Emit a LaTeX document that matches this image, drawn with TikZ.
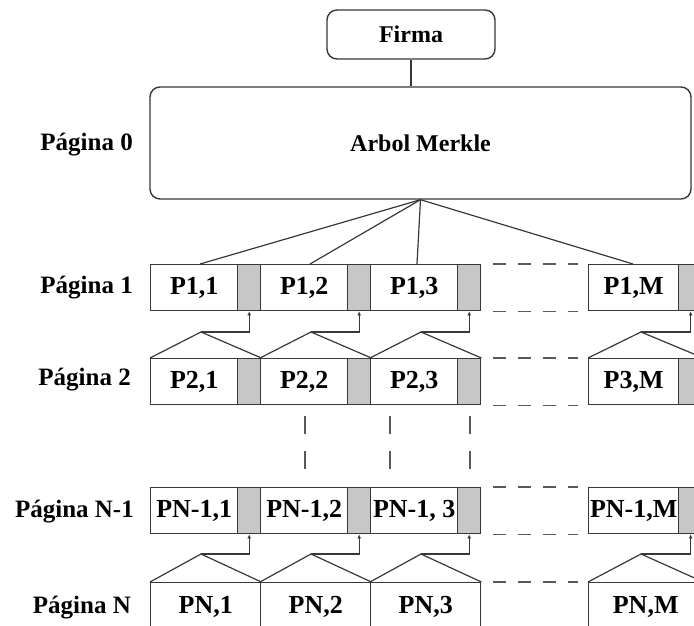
\documentclass[tikz,border=0pt]{standalone}
\usepackage{fontspec}
\setmainfont{Liberation Serif}
\usetikzlibrary{calc,arrows.meta}
\begin{document}
\begin{tikzpicture}[x=1pt,y=-1pt,
  ln/.style={draw=black!78, line width=1.4pt},
  cell/.style={ln, fill=white, minimum height=46pt, inner sep=0pt, anchor=north west, font=\fontsize{26}{26}\selectfont\bfseries},
  lastcell/.style={cell, minimum height=48pt},
  shade/.style={ln, fill=black!22, minimum height=46pt, minimum width=23pt, inner sep=0pt, anchor=north west},
  roof/.style={draw=black!78, line width=1.2pt, line join=miter},
  up/.style={draw=black!78, line width=1.1pt, -{Latex[length=4pt,width=4pt]}},
  gap/.style={draw=black!65, line width=1.4pt, dash pattern=on 13pt off 12pt},
  gapv/.style={draw=black!65, line width=1.4pt, dash pattern=on 18pt off 17pt},
  lbl/.style={anchor=east, inner sep=0pt, font=\fontsize{25}{25}\selectfont\bfseries},
  rbox/.style={ln, rounded corners=10pt, fill=white, inner sep=0pt, font=\fontsize{24}{24}\selectfont\bfseries}]
\useasboundingbox (0,0) rectangle (694,626);
\clip (0,0) rectangle (694,626);

% top boxes
\node[rbox, minimum width=168pt, minimum height=49pt] (f) at (411,34.5) {Firma};
\node[rbox, minimum width=541pt, minimum height=112pt] (m) at (420.5,143) {Arbol Merkle};
\draw[ln] (f.south) -- (f.south |- m.north);

% labels
\node[lbl] (l0) at (133,145) {Página 0};
\node[lbl] (l1) at (133,288) {Página 1};
\node[lbl] (l2) at (131,380) {Página 2};
\node[lbl] (l3) at (134,512) {Página N-1};
\node[lbl] (l4) at (131,608) {Página N};

% row 1
\node[cell, minimum width=87pt] (a1) at (150,264) {P1,1};
\node[shade] (ga1) at (237,264) {};
\node[cell, minimum width=87pt] (a2) at (260,264) {P1,2};
\node[shade] (ga2) at (347,264) {};
\node[cell, minimum width=87pt] (a3) at (370,264) {P1,3};
\node[shade] (ga3) at (457,264) {};
\node[cell, minimum width=90pt] (aM) at (588,264) {P1,M};
\node[shade, minimum width=24pt] (gaM) at (678,264) {};

% row 2
\node[cell, minimum width=87pt] (b1) at (150,358) {P2,1};
\node[shade] (gb1) at (237,358) {};
\node[cell, minimum width=87pt] (b2) at (260,358) {P2,2};
\node[shade] (gb2) at (347,358) {};
\node[cell, minimum width=87pt] (b3) at (370,358) {P2,3};
\node[shade] (gb3) at (457,358) {};
\node[cell, minimum width=90pt] (bM) at (588,358) {P3,M};
\node[shade, minimum width=24pt] (gbM) at (678,358) {};

% row N-1
\node[cell, minimum width=87pt] (c1) at (150,487) {PN-1,1};
\node[shade] (gc1) at (237,487) {};
\node[cell, minimum width=87pt] (c2) at (260,487) {PN-1,2};
\node[shade] (gc2) at (347,487) {};
\node[cell, minimum width=87pt] (c3) at (370,487) {PN-1, 3};
\node[shade] (gc3) at (457,487) {};
\node[cell, minimum width=90pt] (cM) at (588,487) {PN-1,M};
\node[shade, minimum width=24pt] (gcM) at (678,487) {};

% row N
\node[lastcell, minimum width=110pt] (d1) at (150,582) {PN,1};
\node[lastcell, minimum width=110pt] (d2) at (260,582) {PN,2};
\node[lastcell, minimum width=110pt] (d3) at (370,582) {PN,3};
\node[lastcell, minimum width=114pt] (dM) at (588,582) {PN,M};

% fan from Merkle tree
\draw[roof] (m.south) -- ($(a1.north west)+(50,0)$);
\draw[roof] (m.south) -- ($(a2.north west)+(50,0)$);
\draw[roof] (m.south) -- ($(a3.north west)+(47,0)$);
\draw[roof] (m.south) -- ($(aM.north west)+(45,0)$);

% roofs and arrows, row 2 -> row 1
\coordinate (rb1) at (201,332);
\coordinate (rb2) at (311,332);
\coordinate (rb3) at (421,332);
\coordinate (rbM) at (641,332);
\draw[roof] (b1.north west) -- (rb1) -- (gb1.north east);
\draw[roof] (b2.north west) -- (rb2) -- (gb2.north east);
\draw[roof] (b3.north west) -- (rb3) -- (gb3.north east);
\draw[roof] (bM.north west) -- (rbM) -- (gbM.north east);
\draw[up] (rb1) -| (ga1.south);
\draw[up] (rb2) -| (ga2.south);
\draw[up] (rb3) -| (ga3.south);
\draw[up] (rbM) -| (gaM.south);

% roofs and arrows, row N -> row N-1
\coordinate (rd1) at (201,554);
\coordinate (rd2) at (311,554);
\coordinate (rd3) at (421,554);
\coordinate (rdM) at (641,554);
\draw[roof] (d1.north west) -- (rd1) -- (d1.north east);
\draw[roof] (d2.north west) -- (rd2) -- (d2.north east);
\draw[roof] (d3.north west) -- (rd3) -- (d3.north east);
\draw[roof] (dM.north west) -- (rdM) -- (dM.north east);
\draw[up] (rd1) -| (gc1.south);
\draw[up] (rd2) -| (gc2.south);
\draw[up] (rd3) -| (gc3.south);
\draw[up] (rdM) -| (gcM.south);

% dashed gaps between column 3 and column M
\draw[gap] ($(ga3.north east)+(12,0)$) -- ($(aM.north west)+(-10,0)$);
\draw[gap] ($(ga3.south east)+(12,0)$) -- ($(aM.south west)+(-10,0)$);
\draw[gap] ($(gb3.north east)+(12,0)$) -- ($(bM.north west)+(-10,0)$);
\draw[gap] ($(gb3.south east)+(12,0)$) -- ($(bM.south west)+(-10,0)$);
\draw[gap] ($(gc3.north east)+(12,0)$) -- ($(cM.north west)+(-10,0)$);
\draw[gap] ($(gc3.south east)+(12,0)$) -- ($(cM.south west)+(-10,0)$);
\draw[gap] ($(d3.north east)+(12,0)$) -- ($(dM.north west)+(-10,0)$);

% vertical dashes between row 2 and row N-1
\coordinate (v1t) at (305,416); \coordinate (v1b) at (305,471);
\coordinate (v2t) at (390,416); \coordinate (v2b) at (390,471);
\coordinate (v3t) at (470,416); \coordinate (v3b) at (470,471);
\draw[gapv] (v1t) -- (v1b);
\draw[gapv] (v2t) -- (v2b);
\draw[gapv] (v3t) -- (v3b);
\end{tikzpicture}
\end{document}
